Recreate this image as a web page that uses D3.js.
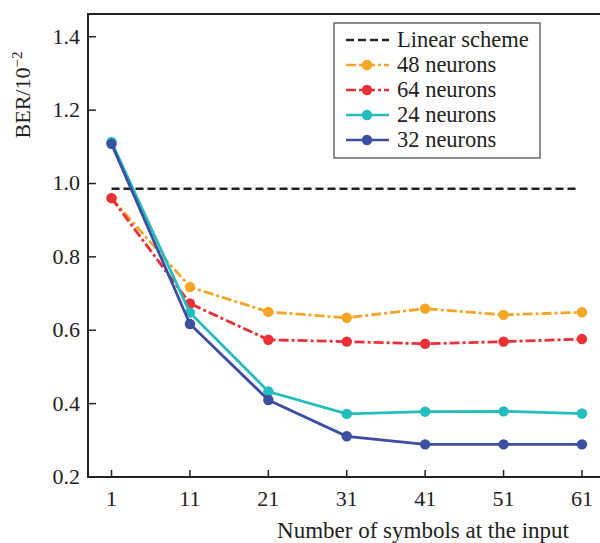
<!DOCTYPE html>
<html>
<head>
<meta charset="utf-8">
<script src="https://cdn.jsdelivr.net/npm/d3@7"></script>
<style>
	body { margin: 0; background: #fff; }
	text { font-family: "Liberation Serif", "Times New Roman", serif; fill: #222; }
</style>
</head>
<body>
<svg id="chart" width="600" height="543"></svg>
<script>
var symbols = [1, 11, 21, 31, 41, 51, 61];
var linear = [0.986, 0.986];
var n48 = [0.96, 0.718, 0.65, 0.634, 0.659, 0.642, 0.649];
var n64 = [0.96, 0.673, 0.574, 0.569, 0.563, 0.569, 0.576];
var n24 = [1.113, 0.648, 0.433, 0.372, 0.378, 0.379, 0.373];
var n32 = [1.108, 0.617, 0.41, 0.311, 0.289, 0.289, 0.289];
var yTicks = [0.2, 0.4, 0.6, 0.8, 1.0, 1.2, 1.4];

var svg = d3.select('#chart');
var pLeft = 88, pRight = 600, pTop = 14, pBottom = 477;

var x = d3.scaleLinear().domain([-2, 63.3]).range([pLeft, pRight]);
var y = d3.scaleLinear().domain([0.2, 1.462]).range([pBottom, pTop]);

var series = [
	{ name: '48 neurons', values: n48, color: '#f6a524', dash: '10,3,3,3' },
	{ name: '64 neurons', values: n64, color: '#ec3038', dash: '10,3,3,3' },
	{ name: '24 neurons', values: n24, color: '#22bdbc', dash: null },
	{ name: '32 neurons', values: n32, color: '#3b4ea0', dash: null }
];

var g = svg.append('g');

// frame
g.append('path')
	.attr('d', 'M' + pRight + ',' + pTop + 'H' + pLeft + 'V' + pBottom + 'H' + pRight)
	.attr('fill', 'none')
	.attr('stroke', '#222')
	.attr('stroke-width', 2);

// y ticks
var yAxis = g.append('g');
yAxis.selectAll('line').data(yTicks).enter().append('line')
	.attr('x1', pLeft).attr('x2', pLeft + 8)
	.attr('y1', function(d) { return y(d); })
	.attr('y2', function(d) { return y(d); })
	.attr('stroke', '#222').attr('stroke-width', 1.5);
yAxis.selectAll('text').data(yTicks).enter().append('text')
	.attr('x', pLeft - 8)
	.attr('y', function(d) { return y(d) + 7; })
	.attr('text-anchor', 'end')
	.style('font-size', '22px')
	.text(function(d) { return d.toFixed(1); });

// x ticks
var xAxis = g.append('g');
xAxis.selectAll('line').data(symbols).enter().append('line')
	.attr('x1', function(d) { return x(d); })
	.attr('x2', function(d) { return x(d); })
	.attr('y1', pBottom).attr('y2', pBottom - 7)
	.attr('stroke', '#222').attr('stroke-width', 1.5);
xAxis.selectAll('text').data(symbols).enter().append('text')
	.attr('x', function(d) { return x(d); })
	.attr('y', pBottom + 29)
	.attr('text-anchor', 'middle')
	.style('font-size', '22px')
	.text(function(d) { return d; });

// axis titles
g.append('text')
	.attr('x', 423).attr('y', 538)
	.attr('text-anchor', 'middle')
	.style('font-size', '23px')
	.text('Number of symbols at the input');

var yt = g.append('text')
	.attr('transform', 'translate(30,95) rotate(-90)')
	.attr('text-anchor', 'middle')
	.style('font-size', '22px');
yt.append('tspan').text('BER/10');
yt.append('tspan').attr('dy', -8).style('font-size', '15px').text('\u22122');

// linear scheme
g.append('line')
	.attr('x1', x(symbols[0])).attr('x2', x(symbols[symbols.length - 1]) - 4)
	.attr('y1', y(linear[0])).attr('y2', y(linear[1]))
	.attr('stroke', '#222').attr('stroke-width', 2.5)
	.style('stroke-dasharray', '8,4');

var line = d3.line()
	.x(function(d, i) { return x(symbols[i]); })
	.y(function(d) { return y(d); });

series.forEach(function(s) {
	g.append('path')
		.attr('d', line(s.values))
		.attr('fill', 'none')
		.attr('stroke', s.color)
		.attr('stroke-width', 2.8)
		.style('stroke-dasharray', s.dash);
	g.selectAll(null).data(s.values).enter().append('circle')
		.attr('cx', function(d, i) { return x(symbols[i]); })
		.attr('cy', function(d) { return y(d); })
		.attr('r', 5.2)
		.style('fill', s.color);
});

// legend
var lg = svg.append('g').attr('transform', 'translate(334,23)');
lg.append('rect')
	.attr('width', 206).attr('height', 135)
	.attr('fill', '#fff')
	.attr('stroke', '#444').attr('stroke-width', 1.2);

var items = [{ name: 'Linear scheme', color: '#222', dash: '8,4', marker: false }]
	.concat(series.map(function(s) { return { name: s.name, color: s.color, dash: s.dash, marker: true }; }));

items.forEach(function(it, i) {
	var cy = 17 + i * 25;
	lg.append('line')
		.attr('x1', 12).attr('x2', 55)
		.attr('y1', cy).attr('y2', cy)
		.attr('stroke', it.color).attr('stroke-width', 2.5)
		.style('stroke-dasharray', it.dash);
	if (it.marker) {
		lg.append('circle')
			.attr('cx', 33).attr('cy', cy).attr('r', 5.2)
			.style('fill', it.color);
	}
	lg.append('text')
		.attr('x', 63).attr('y', cy + 7)
		.style('font-size', '22.5px')
		.text(it.name);
});
</script>
</body>
</html>
